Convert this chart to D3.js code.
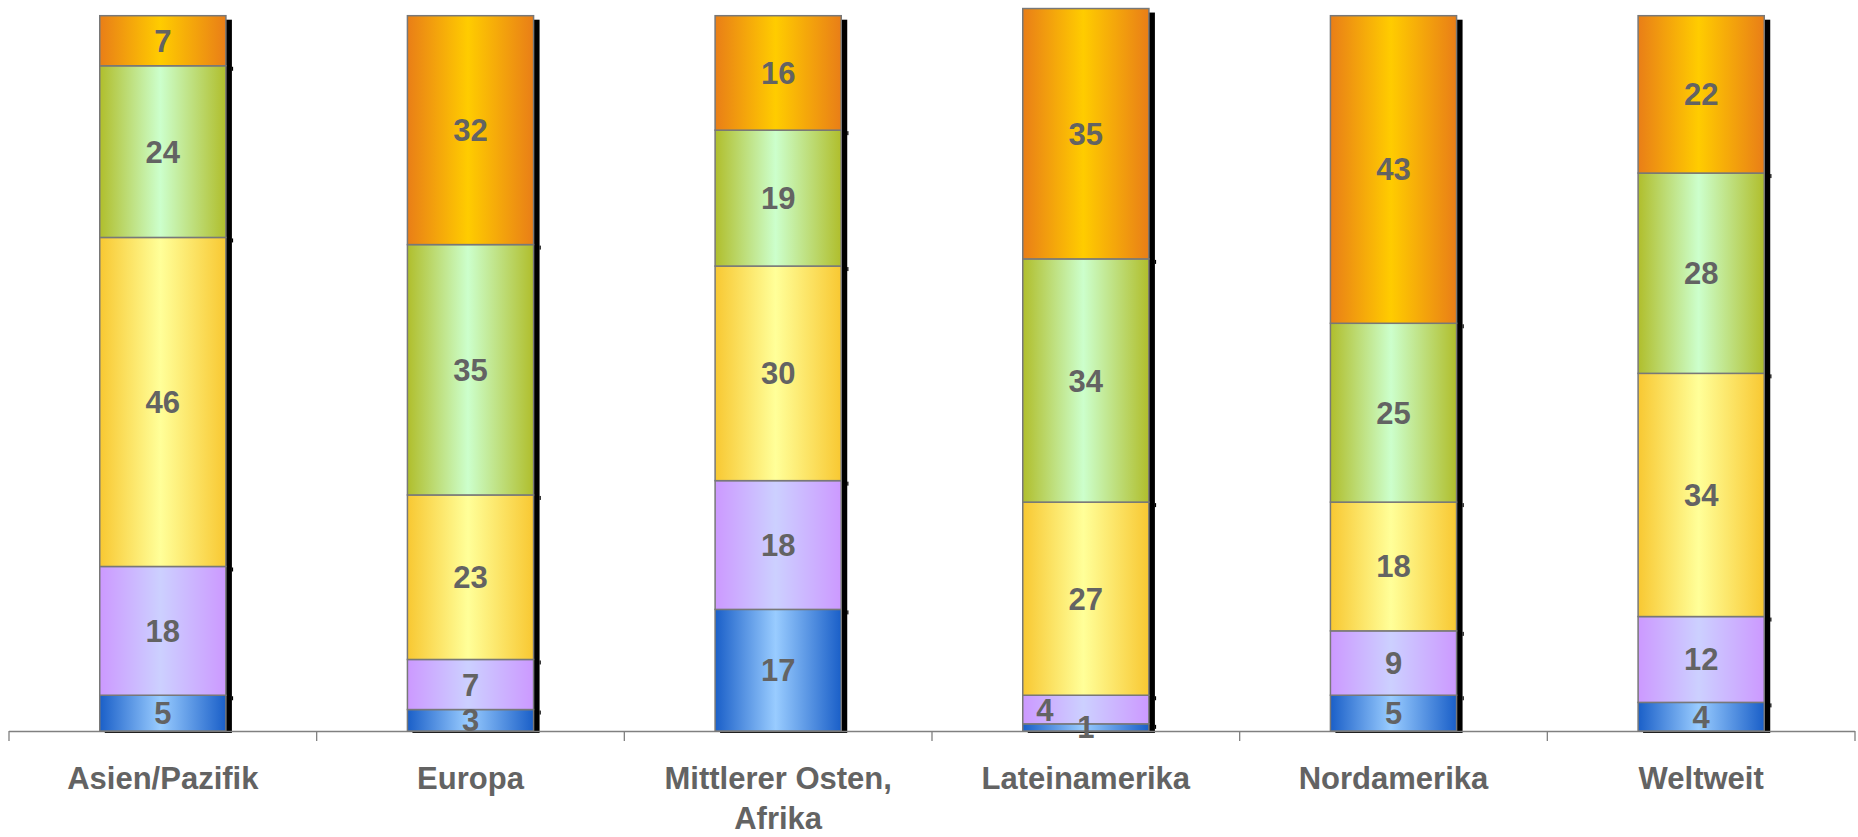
<!DOCTYPE html>
<html>
<head>
<meta charset="utf-8">
<script src="https://cdn.jsdelivr.net/npm/d3@7"></script>
<style>
  html, body { margin: 0; padding: 0; background: #ffffff; }
  svg { display: block; }
</style>
</head>
<body>
<svg id="chart" width="1858" height="837"></svg>
<script>
// ---- data ----
const categories = ["Asien/Pazifik", "Europa", "Mittlerer Osten, Afrika", "Lateinamerika", "Nordamerika", "Weltweit"];
const categoryLines = [["Asien/Pazifik"], ["Europa"], ["Mittlerer Osten,", "Afrika"], ["Lateinamerika"], ["Nordamerika"], ["Weltweit"]];
// stacked series, bottom to top
const seriesBlue   = [5, 3, 17, 1, 5, 4];
const seriesPurple = [18, 7, 18, 4, 9, 12];
const seriesYellow = [46, 23, 30, 27, 18, 34];
const seriesGreen  = [24, 35, 19, 34, 25, 28];
const seriesOrange = [7, 32, 16, 35, 43, 22];
const yDomain = [0, 100];

const seriesList = [
  { key: "blue",   values: seriesBlue,   edge: "#1a5fc8", mid: "#99ccff" },
  { key: "purple", values: seriesPurple, edge: "#cc99ff", mid: "#ccd0ff" },
  { key: "yellow", values: seriesYellow, edge: "#f8c832", mid: "#ffff99" },
  { key: "green",  values: seriesGreen,  edge: "#b0be2c", mid: "#ccffcc" },
  { key: "orange", values: seriesOrange, edge: "#e97e17", mid: "#ffcc00" }
];

const svg = d3.select("#chart");
const axisY = 731;

const x = d3.scaleBand().domain(categories).range([9, 1855]).paddingInner(0.59).paddingOuter(0.295);
const y = d3.scaleLinear().domain(yDomain).range([axisY, 15.7]);

// gradients
const defs = svg.append("defs");
seriesList.forEach(s => {
  const g = defs.append("linearGradient").attr("id", "grad-" + s.key)
    .attr("x1", "0%").attr("x2", "100%").attr("y1", "0%").attr("y2", "0%");
  g.append("stop").attr("offset", "0%").attr("stop-color", s.edge);
  g.append("stop").attr("offset", "48%").attr("stop-color", s.mid);
  g.append("stop").attr("offset", "100%").attr("stop-color", s.edge);
});

// stack
const rows = categories.map((c, i) => {
  const r = { cat: c };
  seriesList.forEach(s => r[s.key] = s.values[i]);
  return r;
});
const stack = d3.stack().keys(seriesList.map(s => s.key))(rows);

// shadows
const totals = rows.map(r => d3.sum(seriesList, s => r[s.key]));
svg.append("g").selectAll("rect").data(rows).join("rect")
  .attr("x", (d) => x(d.cat) + 5)
  .attr("y", (d, i) => y(totals[i]) + 4)
  .attr("width", x.bandwidth() + 1)
  .attr("height", (d, i) => axisY - y(totals[i]) - 2)
  .attr("fill", "#000");

// small shadow protrusions at segment boundaries
const bGroup = svg.append("g");
stack.slice(0, -1).forEach(layer => {
  layer.forEach((d, i) => {
    bGroup.append("rect")
      .attr("x", x(categories[i]) + x.bandwidth() + 6)
      .attr("y", y(d[1]) + 1)
      .attr("width", 1.2)
      .attr("height", 4)
      .attr("fill", "#000");
  });
});

// axis line & ticks
const axisG = svg.append("g");
axisG.append("line").attr("x1", 9).attr("x2", 1855).attr("y1", axisY + 0.5).attr("y2", axisY + 0.5)
  .attr("stroke", "#808080").attr("stroke-width", 1.3);
const step = x.step();
const tickXs = d3.range(categories.length + 1).map(i => 9 + i * step);
axisG.selectAll("line.tick").data(tickXs).join("line").attr("class", "tick")
  .attr("x1", d => d).attr("x2", d => d).attr("y1", axisY).attr("y2", axisY + 10)
  .attr("stroke", "#808080").attr("stroke-width", 1.3);

// bars
const barsG = svg.append("g");
stack.forEach((layer, si) => {
  const s = seriesList[si];
  barsG.append("g").selectAll("rect").data(layer).join("rect")
    .attr("x", (d, i) => x(categories[i]))
    .attr("y", d => y(d[1]))
    .attr("width", x.bandwidth())
    .attr("height", d => y(d[0]) - y(d[1]))
    .attr("fill", "url(#grad-" + s.key + ")")
    .attr("stroke", "#787878")
    .attr("stroke-width", 1.5);
});

// value labels
const labG = svg.append("g")
  .attr("font-family", "'Liberation Sans', Arial, sans-serif")
  .attr("font-weight", "bold").attr("font-size", 31).attr("fill", "#636363")
  .attr("text-anchor", "middle");
stack.forEach((layer, si) => {
  layer.forEach((d, i) => {
    const v = d[1] - d[0];
    const hPx = y(d[0]) - y(d[1]);
    let cx = x(categories[i]) + x.bandwidth() / 2;
    // nudge label left when it would collide with a tiny segment label below
    if (si > 0) {
      const below = stack[si - 1][i];
      const belowPx = y(below[0]) - y(below[1]);
      if (hPx < 30 && belowPx < 30) cx -= 41;
    }
    labG.append("text")
      .attr("x", cx)
      .attr("y", (y(d[0]) + y(d[1])) / 2 + 11)
      .text(v);
  });
});

// category labels
const catG = svg.append("g")
  .attr("font-family", "'Liberation Sans', Arial, sans-serif")
  .attr("font-weight", "bold").attr("font-size", 31).attr("fill", "#636363")
  .attr("text-anchor", "middle");
categories.forEach((c, i) => {
  const t = catG.append("text").attr("x", x(c) + x.bandwidth() / 2).attr("y", 789);
  categoryLines[i].forEach((ln, k) => {
    t.append("tspan").attr("x", x(c) + x.bandwidth() / 2).attr("dy", k === 0 ? 0 : 40).text(ln);
  });
});
</script>
</body>
</html>
